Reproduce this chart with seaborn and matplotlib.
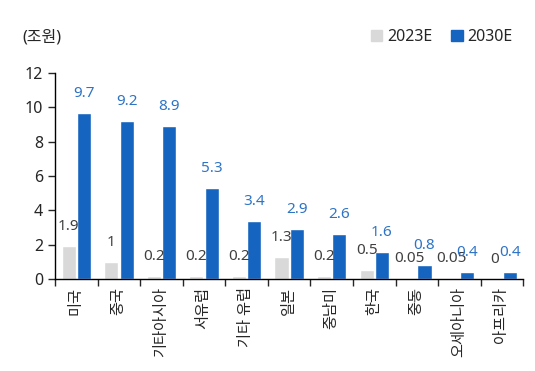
import matplotlib
matplotlib.use("Agg")
import matplotlib.pyplot as plt
import pandas as pd
import seaborn as sns

regions = ["미국", "중국", "기타아시아", "서유럽", "기타 유럽", "일본", "중남미",
           "한국", "중동", "오세아니아", "아프리카"]
val_2023 = [1.9, 1, 0.2, 0.2, 0.2, 1.3, 0.2, 0.5, 0.05, 0.05, 0]
val_2030 = [9.7, 9.2, 8.9, 5.3, 3.4, 2.9, 2.6, 1.6, 0.8, 0.4, 0.4]
lbl_2023 = ["1.9", "1", "0.2", "0.2", "0.2", "1.3", "0.2", "0.5", "0.05", "0.05", "0"]
lbl_2030 = ["9.7", "9.2", "8.9", "5.3", "3.4", "2.9", "2.6", "1.6", "0.8", "0.4", "0.4"]
years = ["2023E", "2030E"]

sns.set_style("white")
plt.rcParams["font.family"] = ["Noto Sans", "Noto Sans CJK KR", "DejaVu Sans"]

df = pd.DataFrame({
    "region": regions * 2,
    "year": [years[0]] * len(regions) + [years[1]] * len(regions),
    "value": val_2023 + val_2030,
})

GRAY = "#D9D9D9"
BLUE = "#1565C0"

fig = plt.figure(figsize=(5.35, 3.71), dpi=100)
ax = fig.add_axes([0.103, 0.248, 0.875, 0.555])
sns.barplot(data=df, x="region", y="value", hue="year", order=regions,
            hue_order=years, palette=[GRAY, BLUE], saturation=1, width=0.72, gap=0.08,
            ax=ax, legend=False)

# value labels
for cont, labels, col in zip(ax.containers, [lbl_2023, lbl_2030], ["#404040", "#2E74C6"]):
    for bar, txt in zip(cont, labels):
        ax.annotate(txt, (bar.get_x() + bar.get_width() / 2, bar.get_height()),
                    xytext=(0, 14), textcoords="offset points",
                    ha="center", va="center", fontsize=11, color=col)

ax.set_ylim(0, 12)
ax.set_yticks(range(0, 13, 2))
ax.set_xlim(-0.5, len(regions) - 0.5)
ax.set_xlabel("")
ax.set_ylabel("")
ax.set_xticks(range(len(regions)))
ax.set_xticklabels(regions, rotation=90, fontsize=11)
ax.tick_params(axis="x", length=0, pad=6)
ax.tick_params(axis="y", length=5, width=1, direction="out", labelsize=11.5, left=True)
ax.set_xticks([i + 0.5 for i in range(-1, len(regions))], minor=True)
ax.tick_params(axis="x", which="minor", length=5, width=1, direction="out", bottom=True)

for s in ["top", "right"]:
    ax.spines[s].set_visible(False)
for s in ["left", "bottom"]:
    ax.spines[s].set_color("black")
    ax.spines[s].set_linewidth(1)

fig.text(0.041, 0.9, "(조원)", fontsize=11.5, va="center")

handles = [plt.Rectangle((0, 0), 1, 1, color=GRAY), plt.Rectangle((0, 0), 1, 1, color=BLUE)]
fig.legend(handles, years, loc="center right", bbox_to_anchor=(0.985, 0.9), ncol=2,
           frameon=False, fontsize=11.5, handlelength=0.7, handleheight=0.7,
           handletextpad=0.3, columnspacing=1.2)

fig.savefig("out.png", dpi=100)
